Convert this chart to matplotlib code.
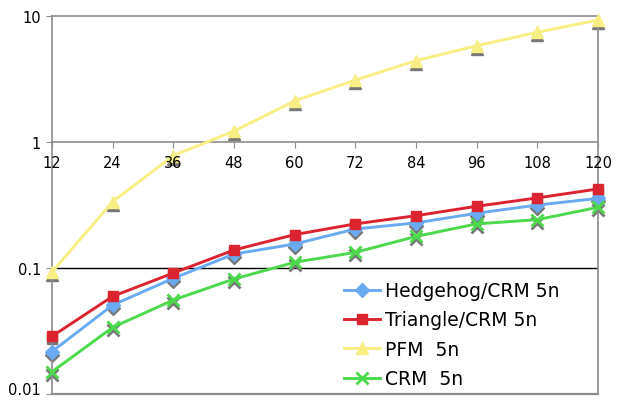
import matplotlib
matplotlib.use("Agg")
import matplotlib.pyplot as plt
from matplotlib.transforms import offset_copy, ScaledTranslation
from matplotlib.ticker import FixedLocator, FixedFormatter, NullLocator

plt.rcParams['font.family'] = ['DejaVu Sans']

x_values = [12, 24, 36, 48, 60, 72, 84, 96, 108, 120]
hedgehog = [0.0217, 0.0508, 0.0828, 0.129, 0.155, 0.204, 0.228, 0.272, 0.316, 0.357]
triangle = [0.0287, 0.0596, 0.0912, 0.139, 0.184, 0.224, 0.260, 0.309, 0.360, 0.424]
pfm = [0.093, 0.336, 0.78, 1.22, 2.12, 3.1, 4.42, 5.81, 7.42, 9.3]
crm = [0.0150, 0.0338, 0.0557, 0.0818, 0.111, 0.133, 0.178, 0.224, 0.242, 0.303]

series_labels = ["Hedgehog/CRM 5n", "Triangle/CRM 5n", "PFM  5n", "CRM  5n"]
y_ticks = [0.01, 0.1, 1, 10]
y_tick_labels = ["0.01", "0.1", "1", "10"]

fig = plt.figure(figsize=(6.2, 4.02), dpi=100)
ax = fig.add_axes([52 / 620, 7 / 402, 546 / 620, 378 / 402])

frame_grey = "#8c8c8c"
ax.set_yscale("log")
ax.set_xlim(12, 120)
ax.set_ylim(0.01, 10)

# frame and axis styling
for side in ["top", "right", "left", "bottom"]:
    ax.spines[side].set_color(frame_grey)
    ax.spines[side].set_linewidth(1.2)
ax.spines["bottom"].set_position(("data", 1))
ax.axhline(0.01, color=frame_grey, lw=1.6, clip_on=False, zorder=1)
ax.axhline(0.1, color="black", lw=1.0, zorder=1)

ax.set_xticks(x_values)
ax.set_xticklabels([str(v) for v in x_values])
ax.yaxis.set_major_locator(FixedLocator(y_ticks))
ax.yaxis.set_major_formatter(FixedFormatter(y_tick_labels))
ax.yaxis.set_minor_locator(NullLocator())
ax.tick_params(axis="x", direction="out", length=4, color=frame_grey, labelsize=10.5, pad=5)
ax.tick_params(axis="y", direction="out", length=4, color=frame_grey, labelsize=10.5, pad=4)
ax.xaxis.set_zorder(5)

styles = [
    (hedgehog, "#6aaaf2", "D", 7.0, 1.0),
    (triangle, "#dc2430", "s", 7.6, 1.0),
    (pfm, "#f7ee84", "^", 8.4, 1.0),
    (crm, "#4cd94c", "x", 8.0, 2.0),
]

shadow_tf = offset_copy(ax.transData, fig=fig, x=0, y=-3, units="dots")
for (vals, col, mk, ms, mew), label in zip(styles, series_labels):
    ax.plot(x_values, vals, linestyle="none", marker=mk, markersize=ms,
            color="#777777", markeredgewidth=mew, transform=shadow_tf,
            clip_on=False, zorder=2)
    ax.plot(x_values, vals, color=col, lw=2.1, marker=mk, markersize=ms,
            markeredgewidth=mew, markeredgecolor=col, label=label,
            clip_on=False, zorder=3)

ax.legend(loc="upper left", bbox_to_anchor=(331 / 620, 1 - 269 / 402),
          bbox_transform=fig.transFigure, frameon=False, fontsize=13.5,
          handlelength=1.9, handletextpad=0.3, labelspacing=0.55,
          borderpad=0.2)

# lift the lowest y label so it stays inside the canvas
fig.canvas.draw()
low_tick = ax.yaxis.get_major_ticks()[0]
low_tick.label1.set_transform(low_tick.label1.get_transform()
                              + ScaledTranslation(0, 4 / 72, fig.dpi_scale_trans))

fig.savefig("out.png", dpi=100)
